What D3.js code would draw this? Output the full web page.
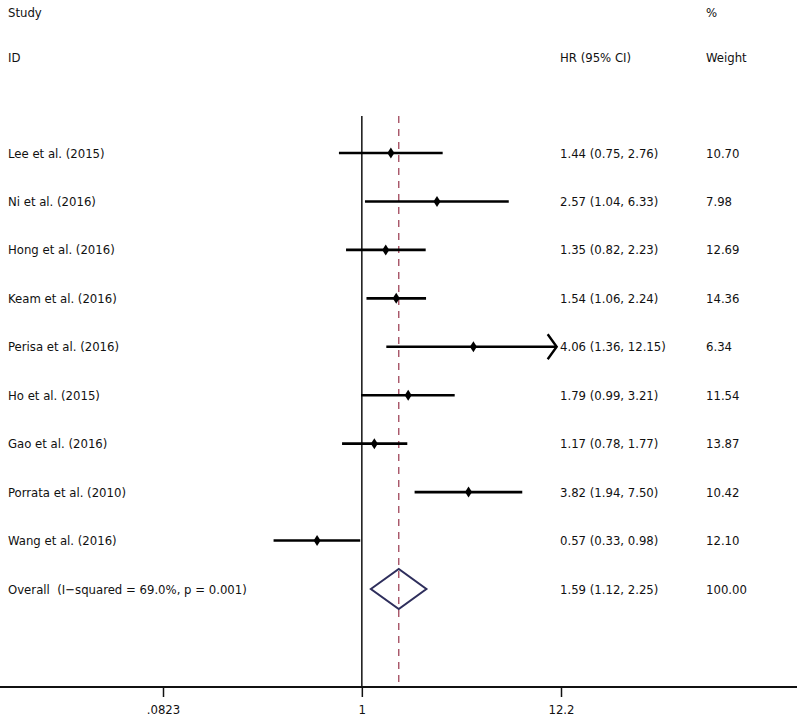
<!DOCTYPE html>
<html><head><meta charset="utf-8">
<script src="https://cdn.jsdelivr.net/npm/d3@7"></script>
<style>
html,body{margin:0;padding:0;background:#fff;}
text{font-family:"DejaVu Sans Condensed",Lato,sans-serif;font-stretch:condensed;font-size:13px;fill:#111;white-space:pre;}
</style></head>
<body><svg id="c" width="797" height="717"></svg>
<script>
const studies = ["Lee et al. (2015)","Ni et al. (2016)","Hong et al. (2016)","Keam et al. (2016)","Perisa et al. (2016)","Ho et al. (2015)","Gao et al. (2016)","Porrata et al. (2010)","Wang et al. (2016)"];
const hr = [1.44,2.57,1.35,1.54,4.06,1.79,1.17,3.82,0.57];
const lower = [0.75,1.04,0.82,1.06,1.36,0.99,0.78,1.94,0.33];
const upper = [2.76,6.33,2.23,2.24,12.15,3.21,1.77,7.50,0.98];
const weights = ["10.70","7.98","12.69","14.36","6.34","11.54","13.87","10.42","12.10"];
const overallLabel = "Overall  (I\u2212squared = 69.0%, p = 0.001)";
const overall = {hr:1.59, lo:1.12, hi:2.25, text:"1.59 (1.12, 2.25)", weight:"100.00"};
const tickValues = [0.0823, 1, 12.2];
const tickLabels = [".0823", "1", "12.2"];

const svg = d3.select("#c");
const x = d3.scaleLog().domain([0.0823, 12.2]).range([163, 561]);
const rows = studies.concat([overallLabel]);
const y = d3.scalePoint().domain(rows).range([153, 589]);
const axisY = 687, topY = 116;
const fmt = d3.format(".2f");
const colHR = 560, colW = 706;

// reference lines
svg.append("line").attr("x1", x(1)).attr("x2", x(1)).attr("y1", topY).attr("y2", axisY)
  .attr("stroke", "#111").attr("stroke-width", 1.5);
svg.append("line").attr("x1", x(overall.hr)).attr("x2", x(overall.hr)).attr("y1", topY).attr("y2", axisY)
  .attr("stroke", "#a0465a").attr("stroke-width", 1.3).attr("stroke-dasharray", "7,6");

// axis
const axis = d3.axisBottom(x).tickValues(tickValues).tickFormat((d,i)=>tickLabels[i]).tickSize(10).tickPadding(6);
const g = svg.append("g").attr("transform", `translate(0,${axisY})`).call(axis);
g.select(".domain").remove();
g.selectAll(".tick line").attr("stroke", "#111").attr("stroke-width", 1.5);
g.selectAll(".tick text").attr("font-size", null).attr("font-family", null).attr("dy", "0.85em");
svg.append("line").attr("x1", 0).attr("x2", 797).attr("y1", axisY).attr("y2", axisY)
  .attr("stroke", "#111").attr("stroke-width", 2);

// study CIs
const [dmin, dmax] = x.domain();
studies.forEach((s, i) => {
  const yy = y(s);
  const lo = Math.max(lower[i], dmin), hi = Math.min(upper[i], dmax);
  const clipped = upper[i] > dmax * 0.99;
  const xe = clipped ? x(hi) - 4 : x(hi);
  svg.append("line").attr("x1", x(lo)).attr("x2", xe).attr("y1", yy).attr("y2", yy)
    .attr("stroke", "#000").attr("stroke-width", 2.6);
  if (clipped) {
    svg.append("path").attr("d", `M${xe-9},${yy-12.5}L${xe},${yy}L${xe-9},${yy+12.5}`)
      .attr("fill", "none").attr("stroke", "#000").attr("stroke-width", 2.4);
  }
  const cx = x(hr[i]);
  svg.append("path").attr("d", `M${cx},${yy-5.5}L${cx+3.5},${yy}L${cx},${yy+5.5}L${cx-3.5},${yy}Z`).attr("fill", "#000");
  svg.append("text").attr("x", 8).attr("y", yy).attr("dy", "0.35em").text(s);
  svg.append("text").attr("x", colHR).attr("y", yy).attr("dy", "0.35em")
    .text(`${fmt(hr[i])} (${fmt(lower[i])}, ${fmt(upper[i])})`);
  svg.append("text").attr("x", colW).attr("y", yy).attr("dy", "0.35em").text(weights[i]);
});

// overall diamond
const oy = y(overallLabel);
svg.append("path").attr("d", `M${x(overall.lo)},${oy}L${x(overall.hr)},${oy-20}L${x(overall.hi)},${oy}L${x(overall.hr)},${oy+20}Z`)
  .attr("fill", "none").attr("stroke", "#2e2e5c").attr("stroke-width", 2);
svg.append("text").attr("x", 8).attr("y", oy).attr("dy", "0.35em").text(overallLabel);
svg.append("text").attr("x", colHR).attr("y", oy).attr("dy", "0.35em").text(overall.text);
svg.append("text").attr("x", colW).attr("y", oy).attr("dy", "0.35em").text(overall.weight);

// headers
svg.append("text").attr("x", 8).attr("y", 12).attr("dy", "0.35em").text("Study");
svg.append("text").attr("x", 8).attr("y", 57).attr("dy", "0.35em").text("ID");
svg.append("text").attr("x", colW).attr("y", 12).attr("dy", "0.35em").text("%");
svg.append("text").attr("x", colHR).attr("y", 57).attr("dy", "0.35em").text("HR (95% CI)");
svg.append("text").attr("x", colW).attr("y", 57).attr("dy", "0.35em").text("Weight");
</script></body></html>
